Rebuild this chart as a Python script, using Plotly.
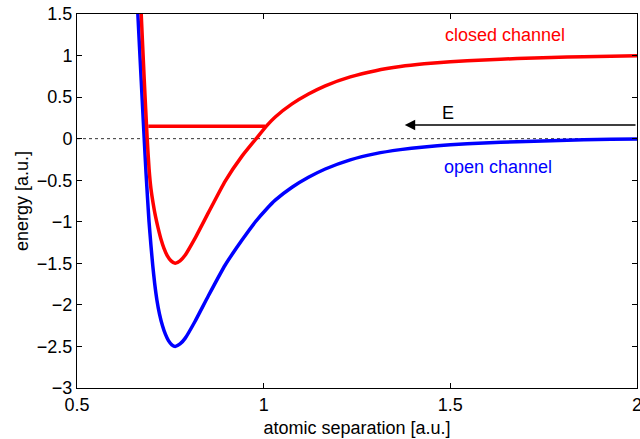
import plotly.graph_objects as go

# open channel (blue)
open_x = [0.655, 0.663, 0.672, 0.680, 0.685, 0.689, 0.693, 0.698, 0.703, 0.708, 0.714, 0.721,
          0.729, 0.737, 0.745, 0.754, 0.763, 0.776, 0.790, 0.816, 0.852, 0.897, 0.942,
          0.978, 1.009, 1.031, 1.076, 1.120, 1.165, 1.232, 1.30, 1.366, 1.43, 1.5,
          1.59, 1.679, 1.77, 1.857, 1.93, 2.0]
open_y = [2.3, 1.5, 0.7, 0.0, -0.42, -0.72, -1.0, -1.28, -1.53, -1.74, -1.94, -2.11,
          -2.25, -2.355, -2.43, -2.48, -2.50, -2.47, -2.40, -2.20, -1.89, -1.52, -1.22,
          -1.00, -0.84, -0.74, -0.585, -0.465, -0.365, -0.255, -0.18, -0.132, -0.099, -0.074,
          -0.052, -0.036, -0.024, -0.014, -0.008, -0.003]

# closed channel (red)
closed_x = [0.664, 0.672, 0.680, 0.688, 0.693, 0.698, 0.704, 0.710, 0.717, 0.725,
            0.733, 0.742, 0.752, 0.763, 0.776, 0.790, 0.816, 0.852, 0.897,
            0.942, 0.978, 1.009, 1.031, 1.076, 1.120, 1.165, 1.232, 1.30, 1.366, 1.43,
            1.5, 1.59, 1.679, 1.77, 1.857, 1.93, 2.0]
closed_y = [2.3, 1.5, 0.72, 0.0, -0.36, -0.60, -0.78, -0.93, -1.07, -1.21,
            -1.32, -1.41, -1.47, -1.50, -1.47, -1.40, -1.20, -0.89, -0.51,
            -0.21, -0.01, 0.16, 0.261, 0.418, 0.537, 0.636, 0.743, 0.818, 0.868, 0.901,
            0.926, 0.948, 0.964, 0.977, 0.987, 0.993, 0.998]

# bound level in closed channel
level_x = [0.691, 1.004]
level_y = [0.15, 0.15]

# incoming energy arrow
arrow_x_start, arrow_x_end, arrow_y = 2.0, 1.378, 0.165

FONT = "Liberation Sans, Arial, Helvetica, sans-serif"
FS = 18

fig = go.Figure()
fig.add_trace(go.Scatter(x=[0.5, 2.0], y=[0, 0], mode="lines",
                         line=dict(color="#333333", width=1, dash="dot"), hoverinfo="skip"))
fig.add_trace(go.Scatter(x=open_x, y=open_y, mode="lines",
                         line=dict(color="#0000ff", width=3.5, shape="spline", smoothing=0.5)))
fig.add_trace(go.Scatter(x=closed_x, y=closed_y, mode="lines",
                         line=dict(color="#ff0000", width=3.5, shape="spline", smoothing=0.5)))
fig.add_trace(go.Scatter(x=level_x, y=level_y, mode="lines",
                         line=dict(color="#ff0000", width=3.5)))

fig.add_annotation(x=arrow_x_end, y=arrow_y, ax=arrow_x_start, ay=arrow_y,
                   xref="x", yref="y", axref="x", ayref="y", text="",
                   showarrow=True, arrowhead=2, arrowsize=1.3, arrowwidth=1.6,
                   arrowcolor="black")
fig.add_annotation(x=1.495, y=0.313, text="E", showarrow=False,
                   font=dict(family=FONT, size=FS, color="black"))
fig.add_annotation(x=1.647, y=1.248, text="closed channel", showarrow=False,
                   font=dict(family=FONT, size=FS, color="#ff0000"))
fig.add_annotation(x=1.628, y=-0.337, text="open channel", showarrow=False,
                   font=dict(family=FONT, size=FS, color="#0000ff"))

axis_common = dict(showline=True, linecolor="black", linewidth=1, mirror="ticks",
                   ticks="inside", ticklen=5, tickcolor="black", showgrid=False,
                   zeroline=False, ticklabeloverflow="allow", automargin=False,
                   tickfont=dict(family=FONT, size=FS, color="black"))
fig.update_xaxes(range=[0.5, 2.0], tickvals=[0.5, 1, 1.5, 2],
                 ticktext=["0.5", "1", "1.5", "2"],
                 title=dict(text="atomic separation [a.u.]", standoff=7,
                            font=dict(family=FONT, size=FS, color="black")),
                 **axis_common)
fig.update_yaxes(range=[-3, 1.5], tickvals=[-3, -2.5, -2, -1.5, -1, -0.5, 0, 0.5, 1, 1.5],
                 title=dict(text="energy [a.u.]", standoff=3,
                            font=dict(family=FONT, size=FS, color="black")),
                 **axis_common)
fig.update_layout(width=640, height=439, showlegend=False,
                  plot_bgcolor="white", paper_bgcolor="white",
                  margin=dict(l=77, r=3, t=14, b=51, autoexpand=False))
# remove the browser's default 8px body margin so the figure fills the window
fig.write_html("out.html", config={"displayModeBar": False},
               post_script="document.body.style.margin='0';document.body.style.overflow='hidden';")
